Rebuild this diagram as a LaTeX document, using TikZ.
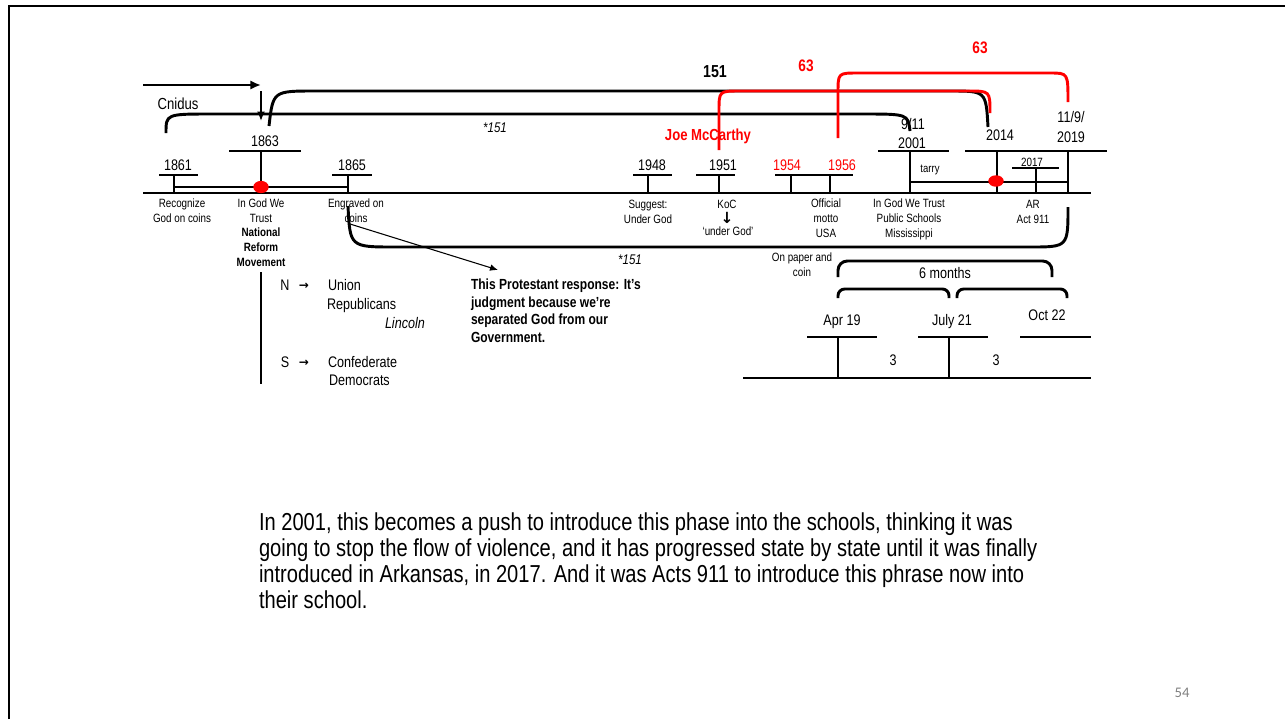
\documentclass[tikz,border=0pt]{standalone}
\usepackage{fontspec}
\setmainfont{Liberation Sans}[FakeStretch=0.82]
\newfontfamily\pagefont{Carlito}
\newfontfamily\symfont{DejaVu Sans}
\usetikzlibrary{arrows.meta}
\definecolor{pagegray}{RGB}{128,128,128}

\begin{document}
\begin{tikzpicture}[x=0.75pt,y=-0.75pt,every node/.style={inner sep=0pt, outer sep=0pt, anchor=base, align=center},
  tline/.style={line width=2.2pt},
  rline/.style={line width=2.2pt, color=red},
  yr/.style={font=\fontsize{11.5}{14.5}\selectfont},
  lbl/.style={font=\fontsize{9}{10.9}\selectfont},
  big/.style={font=\fontsize{11.5}{14}\selectfont}]
\useasboundingbox (0,0) rectangle (1285,719);
\draw[line width=2.2pt] (9,719) -- (9,6) -- (1285,6);

% main line and ticks
\draw[tline] (143,193) -- (1091,193);
\draw[tline] (159,175) -- (198,175) (174,175) -- (174,193);
\draw[tline] (229,151) -- (301,151) (261,151) -- (261,193);
\draw[tline] (332,175) -- (372,175) (348,175) -- (348,193);
\draw[tline] (174,187) -- (348,187);
\draw[tline] (633,175) -- (672,175) (648,175) -- (648,193);
\draw[tline] (696,175) -- (735,175) (719,175) -- (719,193);
\draw[tline] (775,175) -- (853,175) (791,175) -- (791,193) (830,175) -- (830,193);
\draw[tline] (878,151) -- (949,151) (910,151) -- (910,193);
\draw[tline] (965,151) -- (1107,151) (997,151) -- (997,193) (1068,151) -- (1068,193);
\draw[tline] (910,182) -- (1068,182);
\draw[tline] (1012,168) -- (1059,168) (1036,168) -- (1036,193);
\fill[red] (261,187) ellipse [x radius=5.8pt, y radius=4.6pt];
\fill[red] (996,181) ellipse [x radius=5.8pt, y radius=4.3pt];

% years
\node[yr] (y1861) at (178,170) {1861};
\node[yr] (y1863) at (265,146) {1863};
\node[yr] (y1865) at (352,170) {1865};
\node[yr] (y1948) at (652,170) {1948};
\node[yr] (y1951) at (723,170) {1951};
\node[yr, red] (y1954) at (787,170) {1954};
\node[yr, red] (y1956) at (842,170) {1956};
\node[yr] (y911) at (913,129) {9/11};
\node[yr] (y2001) at (912,148) {2001};
\node[yr] (y2014) at (1000,140) {2014};
\node[yr] (y119) at (1071,122) {11/9/};
\node[yr] (y2019) at (1071,142) {2019};
\node[font=\fontsize{9}{10}\selectfont] (y2017) at (1032,166) {2017};
\node[font=\fontsize{8.7}{10}\selectfont] (tarry) at (930,172) {tarry};

% labels under the line
\node[lbl] (recog) at (182,222) {Recognize\\God on coins};
\node[lbl] (igwt) at (261,266) {In God We\\Trust\\\textbf{National}\\\textbf{Reform}\\\textbf{Movement}};
\node[lbl] (engr) at (356,222) {Engraved on\\coins};
\node[lbl] (sugg) at (648,223) {Suggest:\\Under God};
\node[lbl] (koc) at (727,208) {KoC};
\node[font=\symfont\bfseries\fontsize{11.5}{12}\selectfont] (kocarr) at (727,223) {↓};
\node[lbl] (ug) at (728,235) {‘under God’};
\node[lbl] (motto) at (826,237) {Official\\motto\\USA};
\node[lbl] (schools) at (909,237) {In God We Trust\\Public Schools\\Mississippi};
\node[lbl] (ar) at (1033,223) {AR\\Act 911};

% brackets above
\draw[tline, -{Latex[length=8pt,width=7pt]}] (143,85) -- (261,85);
\draw[tline, -{Latex[length=7pt,width=6pt]}] (261,91) -- (261,121);
\node[font=\fontsize{12}{14}\selectfont] (cnidus) at (178,109) {Cnidus};
\draw[tline] (166,133) .. controls (166,114) .. (212,114) -- (862,114) .. controls (908,114) .. (910,131);
\draw[tline] (269,126) .. controls (273,91) .. (315,91) -- (950,91) .. controls (986,91) .. (988,127);
\draw[rline] (719,150) -- (719,111) .. controls (719,91) .. (740,91) -- (968,91) .. controls (990,91) .. (990,113);
\draw[rline] (838,138) -- (838,93) .. controls (838,73) .. (858,73) -- (1050,73) .. controls (1068,73) .. (1068,102);
\node[font=\bfseries\fontsize{13}{15}\selectfont] (n151) at (715,77) {151};
\node[red, font=\bfseries\fontsize{12.5}{15}\selectfont] (n63a) at (806,71) {63};
\node[red, font=\bfseries\fontsize{12.5}{15}\selectfont] (n63b) at (980,53) {63};
\node[red, font=\bfseries\fontsize{12}{14}\selectfont] (joe) at (708,140) {Joe McCarthy};
\node[font=\itshape\fontsize{10.5}{12}\selectfont] (s151a) at (495,132) {*151};

% bracket below
\draw[tline] (348,206) .. controls (350,247) .. (395,247) -- (1030,247) .. controls (1068,247) .. (1068,207);
\node[font=\itshape\fontsize{10.5}{12}\selectfont] (s151b) at (630,264) {*151};
\coordinate (arrstart) at (350,224);
\node[anchor=base west, align=left, font=\bfseries\fontsize{11}{13.1}\selectfont] (prot) at (471,342) {This Protestant response: It’s\\judgment because we’re\\separated God from our\\Government.};
\draw[line width=0.8pt, -{Latex[length=6pt,width=5pt]}] (arrstart) -- (498,270);

% north and south
\draw[tline] (261,272) -- (261,384);
\node[big] (nlab) at (285,290) {N};
\node[font=\symfont\bfseries\fontsize{9}{10}\selectfont] (narr) at (304,289) {→};
\node[big, anchor=base west] (union) at (328,290) {Union};
\node[big, anchor=base west] (rep) at (327,309) {Republicans};
\node[big, anchor=base west, font=\itshape\fontsize{11.5}{14}\selectfont] (lincoln) at (385,328) {Lincoln};
\node[big] (slab) at (285,367) {S};
\node[font=\symfont\bfseries\fontsize{9}{10}\selectfont] (sarr) at (304,366) {→};
\node[big, anchor=base west] (conf) at (328,367) {Confederate};
\node[big, anchor=base west] (dem) at (329,385) {Democrats};

% six months
\node[lbl] (paper) at (802,276) {On paper and\\coin};
\draw[tline, rounded corners=7pt] (838,277) |- (1052,261) -- (1052,277);
\node[big] (six) at (945,278) {6 months};
\draw[tline, rounded corners=5pt] (838,298) |- (949,289) -- (949,298);
\draw[tline, rounded corners=5pt] (957,298) |- (1067,289) -- (1067,298);
\node[big] (apr) at (842,325) {Apr 19};
\node[big] (jul) at (952,325) {July 21};
\node[big] (oct) at (1047,320) {Oct 22};
\draw[tline] (807,337) -- (877,337) (918,337) -- (988,337) (1020,337) -- (1091,337);
\draw[tline] (838,337) -- (838,378) (949,337) -- (949,378);
\draw[tline] (743,378) -- (1091,378);
\node[big] (m1) at (893,365) {3};
\node[big] (m2) at (996,365) {3};

% note
\node[anchor=base west, align=left, font=\fontsize{18.4}{19.5}\selectfont] (note) at (259,608) {In 2001, this becomes a push to introduce this phase into the schools, thinking it was\\going to stop the flow of violence, and it has progressed state by state until it was finally\\introduced in Arkansas, in 2017. And it was Acts 911 to introduce this phrase now into\\their school.};
\node[text=pagegray, font=\pagefont\fontsize{11}{12}\selectfont] (pg) at (1182,697) {54};
\end{tikzpicture}
\end{document}
